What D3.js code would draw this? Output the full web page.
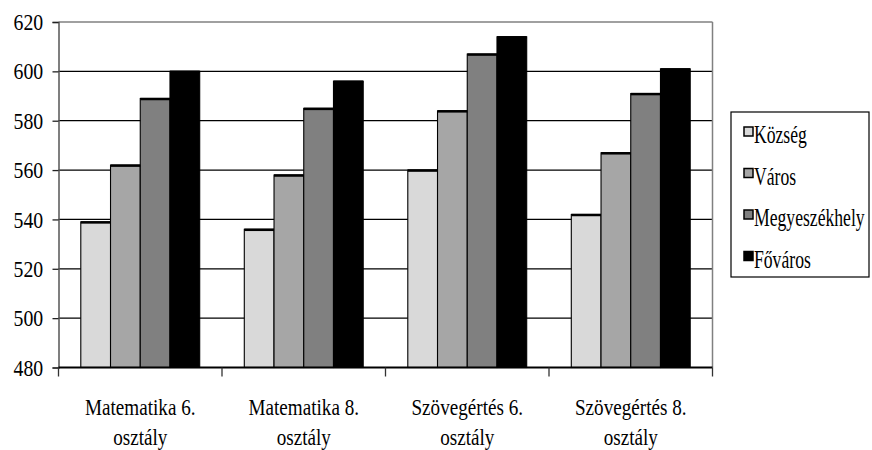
<!DOCTYPE html>
<html><head><meta charset="utf-8">
<script src="https://cdn.jsdelivr.net/npm/d3@7/dist/d3.min.js"></script>
<style>body{margin:0;background:#fff}svg{display:block}svg text{font-family:'Liberation Serif','Times New Roman','DejaVu Serif',serif !important;fill:#000}</style>
</head><body><svg id="c" width="872" height="450" font-family="Liberation Serif, DejaVu Serif, serif"></svg>
<script>
const categories = [["Matematika 6.","osztály"],["Matematika 8.","osztály"],["Szövegértés 6.","osztály"],["Szövegértés 8.","osztály"]];
const seriesNames = ["Község","Város","Megyeszékhely","Főváros"];
const seriesColors = ["#d9d9d9","#a6a6a6","#808080","#000000"];
const kozseg = [539, 536, 560, 542];
const varos = [562, 558, 584, 567];
const megye = [589, 585, 607, 591];
const fovaros = [600, 596, 614, 601];
const yTicks = [480, 500, 520, 540, 560, 580, 600, 620];

const FONT = "Liberation Serif, DejaVu Serif, serif";
const seriesValues = [kozseg, varos, megye, fovaros];
const svg = d3.select("#c");
const L = 58.5, R = 712.5, T = 22, B = 367.5;
const catKeys = categories.map((c,i)=>i);
const x0 = d3.scaleBand().domain(catKeys).range([L,R]).padding(0);
const x1 = d3.scaleBand().domain(seriesNames).range([0,x0.bandwidth()]).paddingInner(0).paddingOuter(0.75);
const y = d3.scaleLinear().domain([480,620]).range([B,T]);

// gridlines
svg.append("g").selectAll("line").data(yTicks.filter(v=>v>480&&v<620)).join("line")
  .attr("x1",L).attr("x2",R).attr("y1",d=>y(d)).attr("y2",d=>y(d))
  .attr("stroke","#000").attr("stroke-width",1.3);
// top and right border
svg.append("line").attr("x1",L).attr("x2",R).attr("y1",T).attr("y2",T).attr("stroke","#808080").attr("stroke-width",1.5);
svg.append("line").attr("x1",R).attr("x2",R).attr("y1",T).attr("y2",B).attr("stroke","#808080").attr("stroke-width",1.5);

// bars
const flat = [];
seriesValues.forEach((vals,si)=>vals.forEach((v,ci)=>flat.push({si,ci,v})));
const bars = svg.append("g");
bars.selectAll("rect").data(flat).join("rect")
  .attr("x",d=>x0(d.ci)+x1(seriesNames[d.si]))
  .attr("width",x1.bandwidth())
  .attr("y",d=>y(d.v)).attr("height",d=>B-y(d.v))
  .attr("fill",d=>seriesColors[d.si]).attr("stroke","#000").attr("stroke-width",1.1);
bars.selectAll("line").data(flat).join("line")
  .attr("x1",d=>x0(d.ci)+x1(seriesNames[d.si])).attr("x2",d=>x0(d.ci)+x1(seriesNames[d.si])+x1.bandwidth())
  .attr("y1",d=>y(d.v)+0.5).attr("y2",d=>y(d.v)+0.5).attr("stroke","#000").attr("stroke-width",2.5);

// y axis
const yAxis = d3.axisLeft(y).tickValues(yTicks).tickSize(6).tickPadding(10).tickFormat(d3.format("d"));
const ya = svg.append("g").attr("transform",`translate(${L},0)`).call(yAxis).attr("font-family",FONT);
ya.select(".domain").attr("stroke","#555").attr("stroke-width",1.5);
ya.selectAll(".tick line").attr("stroke","#222").attr("stroke-width",1.3);
ya.selectAll(".tick text").attr("font-size",22).attr("font-family",FONT).attr("fill","#000")
  .attr("dy","0.33em").attr("x",-17).attr("transform","scale(0.9,1.05)");

// x axis
const xa = svg.append("g").attr("transform",`translate(0,${B})`);
xa.append("line").attr("x1",L).attr("x2",R).attr("stroke","#000").attr("stroke-width",2.2);
const bounds = catKeys.map(i=>x0(i)).concat([R]);
xa.selectAll("line.t").data(bounds).join("line").attr("class","t")
  .attr("x1",d=>d).attr("x2",d=>d).attr("y1",0).attr("y2",9).attr("stroke","#333").attr("stroke-width",1.3);
const lab = svg.append("g");
categories.forEach((lines,i)=>{
  const cx = x0(i)+x0.bandwidth()/2;
  lines.forEach((t,j)=>{
    lab.append("text").attr("transform",`translate(${cx},${415+30*j}) scale(0.87,1.08)`)
      .attr("text-anchor","middle").attr("font-size",22).attr("font-family",FONT).text(t);
  });
});

// legend
const lg = svg.append("g");
lg.append("rect").attr("x",731).attr("y",112).attr("width",138).attr("height",165)
  .attr("fill","#fff").attr("stroke","#000").attr("stroke-width",1.2);
seriesNames.forEach((n,i)=>{
  const cy = 135 + 41.5*i;
  lg.append("rect").attr("x",744).attr("y",cy-8).attr("width",9).attr("height",9)
    .attr("fill",seriesColors[i]).attr("stroke","#000").attr("stroke-width",1.5);
  lg.append("text").attr("transform",`translate(754,${cy+8}) scale(0.735,1.08)`)
    .attr("font-size",24).attr("font-family",FONT).text(n);
});
</script></body></html>
